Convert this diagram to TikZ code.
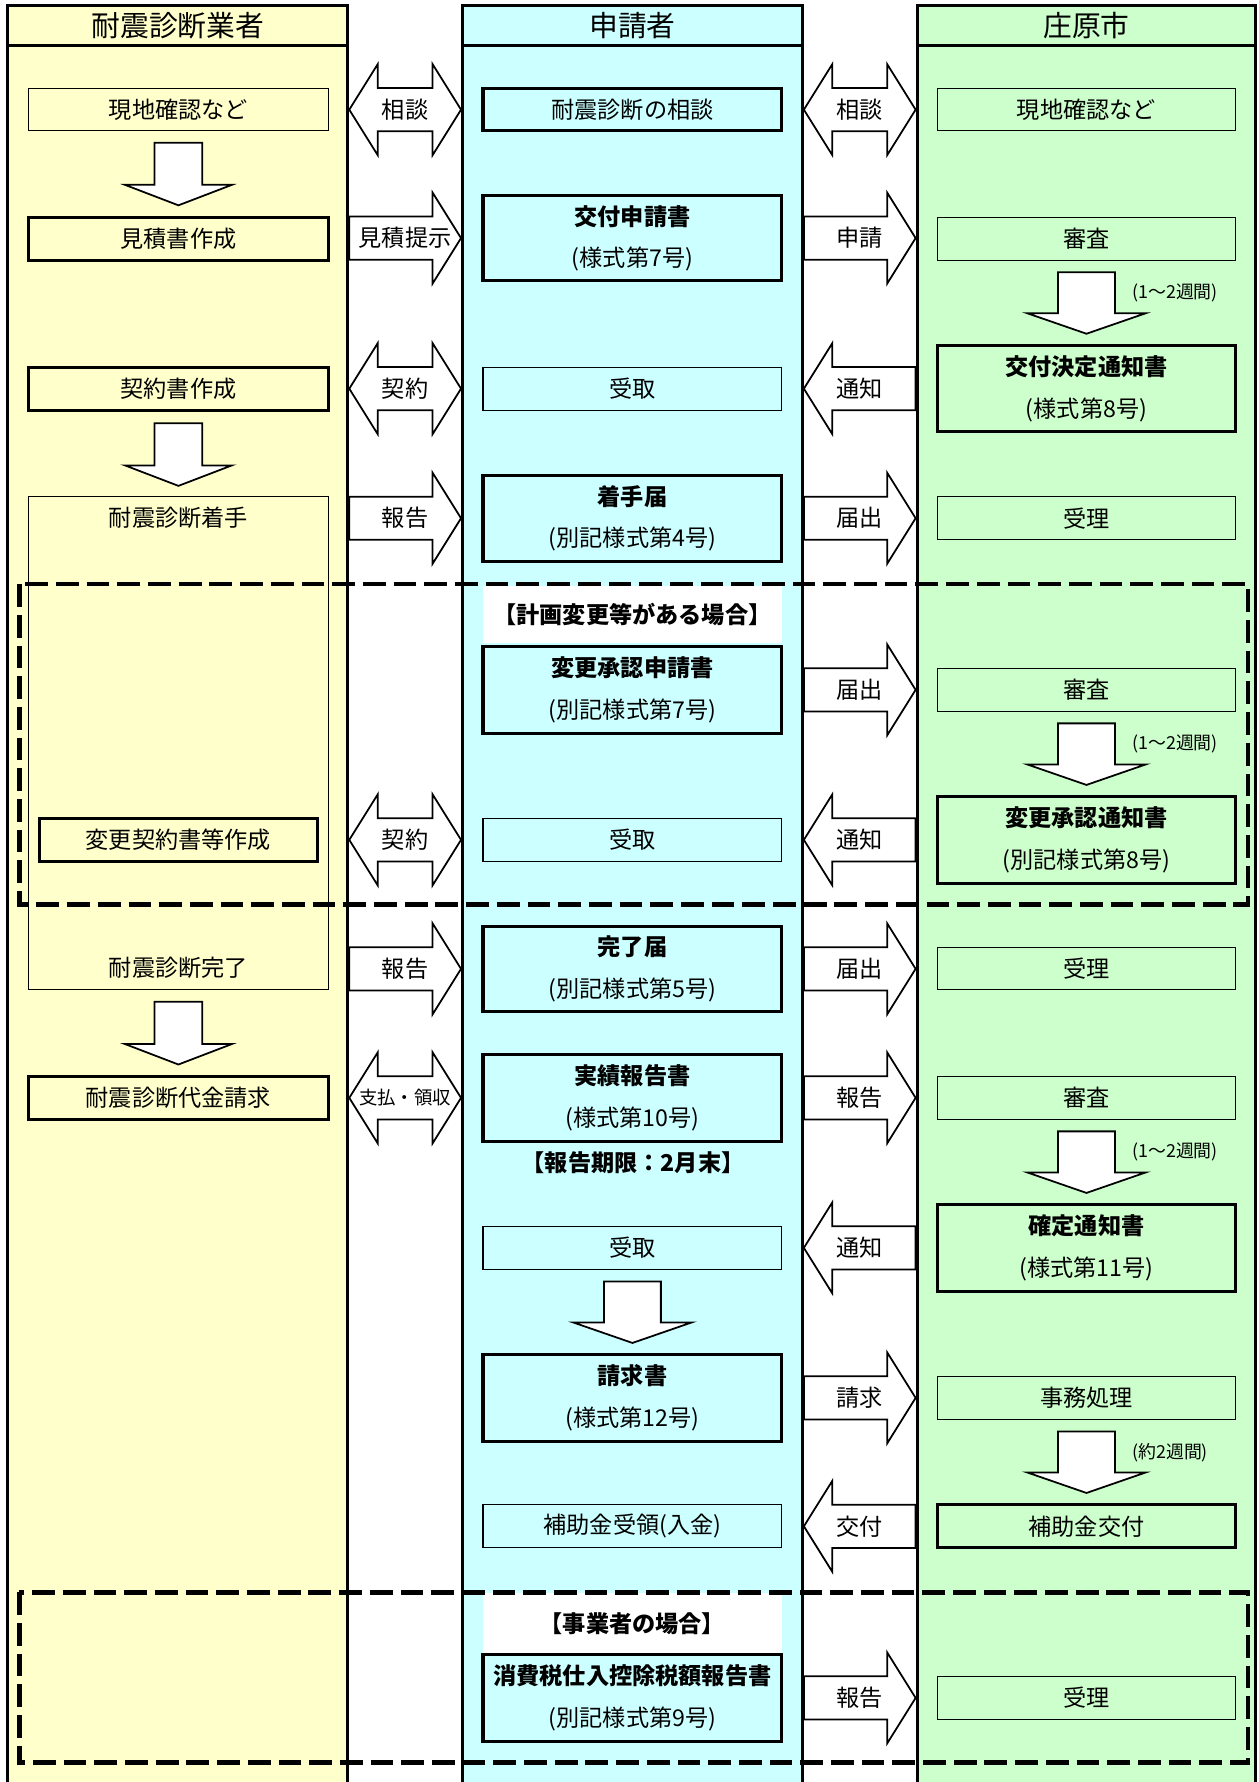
\documentclass[tikz,border=0pt]{standalone}
\usepackage{fontspec}
\setmainfont{Noto Sans CJK JP}
\usetikzlibrary{fit,calc}
\definecolor{colY}{HTML}{FFFFCC}
\definecolor{colC}{HTML}{CCFFFF}
\definecolor{colG}{HTML}{CCFFCC}
\newcommand{\arrSh}{0.475cm}
\newcommand{\arrHh}{1cm}
\newcommand{\arrHl}{0.625cm}
\tikzset{
  thinbox/.style={draw, line width=0.7pt, inner sep=0pt},
  thickbox/.style={draw, line width=1.9pt, inner sep=0pt},
  notebox/.style={fill=white, inner sep=0pt},
  boxtext/.style={inner sep=0pt, font=\fontsize{14.5}{26}\selectfont, align=center},
  notetext/.style={inner sep=0pt, font=\fontsize{14.5}{16}\selectfont\bfseries},
  plain/.style={inner sep=0pt, font=\fontsize{14.5}{16}\selectfont},
  lane/.style={draw, line width=1.9pt, inner sep=0pt},
  blockarrow/.style={draw, fill=white, line width=1.1pt, line join=miter},
  alabel/.style={font=\fontsize{14.5}{16}\selectfont, inner sep=0pt},
  slabel/.style={font=\fontsize{11.2}{13}\selectfont, inner sep=0pt},
  dashregion/.style={draw, line width=2.9pt, dash pattern=on 0.5cm off 0.175cm},
  lanetitle/.style={font=\fontsize{18}{20}\selectfont, inner sep=0pt},
}
% box with centred text: #1 style, #2 name, #3 corner, #4 corner, #5 text style, #6 text
\newcommand{\bx}[6]{%
  \node[#1, fit={#3 #4}] (#2) {};
  \node[#5] (#2t) at (#2.center) {#6};
}
% right-pointing block arrow: #1 tail lane, #2 head lane, #3 row node, #4 label, #5 name
\newcommand{\arrR}[5]{%
  \draw[blockarrow] let \p1=(#1.east |- #3), \p2=(#2.west |- #3) in
    (\x1,\y1+\arrSh) -- (\x2-\arrHl,\y1+\arrSh) -- (\x2-\arrHl,\y1+\arrHh) -- (\x2,\y1)
    -- (\x2-\arrHl,\y1-\arrHh) -- (\x2-\arrHl,\y1-\arrSh) -- (\x1,\y1-\arrSh) -- cycle
    ({(\x1+\x2)/2},\y1) node[alabel] (#5) {#4};
}
% left-pointing block arrow: #1 head lane (left), #2 tail lane (right)
\newcommand{\arrL}[5]{%
  \draw[blockarrow] let \p1=(#1.east |- #3), \p2=(#2.west |- #3) in
    (\x2,\y1+\arrSh) -- (\x1+\arrHl,\y1+\arrSh) -- (\x1+\arrHl,\y1+\arrHh) -- (\x1,\y1)
    -- (\x1+\arrHl,\y1-\arrHh) -- (\x1+\arrHl,\y1-\arrSh) -- (\x2,\y1-\arrSh) -- cycle
    ({(\x1+\x2)/2},\y1) node[alabel] (#5) {#4};
}
% double block arrow
\newcommand{\arrLR}[5]{%
  \draw[blockarrow] let \p1=(#1.east |- #3), \p2=(#2.west |- #3) in
    (\x1,\y1) -- (\x1+\arrHl,\y1+\arrHh) -- (\x1+\arrHl,\y1+\arrSh) -- (\x2-\arrHl,\y1+\arrSh)
    -- (\x2-\arrHl,\y1+\arrHh) -- (\x2,\y1) -- (\x2-\arrHl,\y1-\arrHh) -- (\x2-\arrHl,\y1-\arrSh)
    -- (\x1+\arrHl,\y1-\arrSh) -- (\x1+\arrHl,\y1-\arrHh) -- cycle
    ({(\x1+\x2)/2},\y1) node[alabel] (#5) {#4};
}
% down block arrow: #1 from node, #2 to node, #3 shaft half width, #4 head half width
\newcommand{\arrD}[4]{%
  \draw[blockarrow] let \p1=(#1.south), \p2=(#2.north) in
    (\x1-#3,\y1-0.25cm) -- (\x1+#3,\y1-0.25cm) -- (\x1+#3,\y2+0.675cm) -- (\x1+#4,\y2+0.675cm)
    -- (\x1,\y2+0.225cm) -- (\x1-#4,\y2+0.675cm) -- (\x1-#3,\y2+0.675cm) -- cycle;
}
\begin{document}
\begin{tikzpicture}[x=0.025cm,y=-0.025cm]
\useasboundingbox (0,0) rectangle (1107,1568);
\clip (0,0) rectangle (1107,1568);
% lanes
\node[lane, fill=colY, fit={(7,5) (306,1600)}] (colL) {};
\node[lane, fill=colC, fit={(407,5) (706,1600)}] (colM) {};
\node[lane, fill=colG, fit={(807,5) (1105,1600)}] (colR) {};
\bx{lane, fill=colY}{hL}{(7,5)}{(306,40)}{lanetitle}{耐震診断業者}
\bx{lane, fill=colC}{hM}{(407,5)}{(706,40)}{lanetitle}{申請者}
\bx{lane, fill=colG}{hR}{(807,5)}{(1105,40)}{lanetitle}{庄原市}
% left lane boxes
\bx{thinbox}{a1}{(25,78)}{(289,115)}{boxtext}{現地確認など}
\bx{thickbox}{a2}{(25,191)}{(289,229)}{boxtext}{見積書作成}
\bx{thickbox}{a3}{(25,323)}{(289,361)}{boxtext}{契約書作成}
\node[thinbox, fit={(25,437) (289,871)}] (a4) {};
\node[plain] (a4s) at (157,456) {耐震診断着手};
\node[plain] (a4e) at (157,852) {耐震診断完了};
\bx{thickbox}{a5}{(35,720)}{(279,758)}{boxtext}{変更契約書等作成}
\bx{thickbox}{a6}{(25,947)}{(289,985)}{boxtext}{耐震診断代金請求}
% middle lane boxes
\bx{thickbox}{b1}{(425,78)}{(688,115)}{boxtext}{耐震診断の相談}
\bx{thickbox}{b2}{(425,172)}{(688,247)}{boxtext}{\textbf{交付申請書}\\(様式第7号)}
\bx{thinbox}{b3}{(425,323)}{(688,361)}{boxtext}{受取}
\bx{thickbox}{b4}{(425,418)}{(688,494)}{boxtext}{\textbf{着手届}\\(別記様式第4号)}
\bx{notebox}{b5}{(425,516)}{(688,566)}{notetext}{【計画変更等がある場合】}
\bx{thickbox}{b6}{(425,569)}{(688,645)}{boxtext}{\textbf{変更承認申請書}\\(別記様式第7号)}
\bx{thinbox}{b7}{(425,720)}{(688,758)}{boxtext}{受取}
\bx{thickbox}{b8}{(425,815)}{(688,890)}{boxtext}{\textbf{完了届}\\(別記様式第5号)}
\bx{thickbox}{b9}{(425,928)}{(688,1004)}{boxtext}{\textbf{実績報告書}\\(様式第10号)}
\node[notetext] (b9n) at (557,1023) {【報告期限：2月末】};
\bx{thinbox}{b10}{(425,1079)}{(688,1117)}{boxtext}{受取}
\bx{thickbox}{b11}{(425,1192)}{(688,1268)}{boxtext}{\textbf{請求書}\\(様式第12号)}
\bx{thinbox}{b12}{(425,1324)}{(688,1362)}{boxtext}{補助金受領(入金)}
\bx{notebox}{b13}{(425,1402)}{(688,1455)}{notetext}{【事業者の場合】}
\bx{thickbox}{b14}{(425,1456)}{(688,1532)}{boxtext}{\textbf{消費税仕入控除税額報告書}\\(別記様式第9号)}
% right lane boxes
\bx{thinbox}{c1}{(825,78)}{(1087,115)}{boxtext}{現地確認など}
\bx{thinbox}{c2}{(825,191)}{(1087,229)}{boxtext}{審査}
\bx{thickbox}{c3}{(825,304)}{(1087,380)}{boxtext}{\textbf{交付決定通知書}\\(様式第8号)}
\bx{thinbox}{c4}{(825,437)}{(1087,475)}{boxtext}{受理}
\bx{thinbox}{c5}{(825,588)}{(1087,626)}{boxtext}{審査}
\bx{thickbox}{c6}{(825,701)}{(1087,777)}{boxtext}{\textbf{変更承認通知書}\\(別記様式第8号)}
\bx{thinbox}{c7}{(825,834)}{(1087,871)}{boxtext}{受理}
\bx{thinbox}{c8}{(825,947)}{(1087,985)}{boxtext}{審査}
\bx{thickbox}{c9}{(825,1060)}{(1087,1136)}{boxtext}{\textbf{確定通知書}\\(様式第11号)}
\bx{thinbox}{c10}{(825,1211)}{(1087,1249)}{boxtext}{事務処理}
\bx{thickbox}{c11}{(825,1324)}{(1087,1362)}{boxtext}{補助金交付}
\bx{thinbox}{c12}{(825,1475)}{(1087,1513)}{boxtext}{受理}
% horizontal block arrows
\arrLR{colL}{colM}{b1}{相談}{t1}
\arrLR{colM}{colR}{b1}{相談}{t2}
\arrR{colL}{colM}{b2}{見積提示}{t3}
\arrR{colM}{colR}{b2}{申請}{t4}
\arrLR{colL}{colM}{b3}{契約}{t5}
\arrL{colM}{colR}{b3}{通知}{t6}
\arrR{colL}{colM}{b4}{報告}{t7}
\arrR{colM}{colR}{b4}{届出}{t8}
\arrR{colM}{colR}{b6}{届出}{t9}
\arrLR{colL}{colM}{b7}{契約}{t10}
\arrL{colM}{colR}{b7}{通知}{t11}
\arrR{colL}{colM}{b8}{報告}{t12}
\arrR{colM}{colR}{b8}{届出}{t13}
\arrLR{colL}{colM}{b9}{\fontsize{11.5}{13}\selectfont 支払・領収}{t14}
\arrR{colM}{colR}{b9}{報告}{t15}
\arrL{colM}{colR}{b10}{通知}{t16}
\arrR{colM}{colR}{b11}{請求}{t17}
\arrL{colM}{colR}{b12}{交付}{t18}
\arrR{colM}{colR}{b14}{報告}{t19}
% vertical block arrows
\arrD{a1}{a2}{0.525cm}{1.175cm}
\arrD{a3}{a4}{0.525cm}{1.175cm}
\arrD{a4}{a6}{0.525cm}{1.175cm}
\arrD{c2}{c3}{0.625cm}{1.3cm}
\arrD{c5}{c6}{0.625cm}{1.3cm}
\arrD{c8}{c9}{0.625cm}{1.3cm}
\arrD{c10}{c11}{0.625cm}{1.3cm}
\arrD{b10}{b11}{0.625cm}{1.3cm}
% duration labels
\node[slabel, anchor=west] (w1) at (996,258) {(1～2週間)};
\node[slabel, anchor=west] (w2) at (996,655) {(1～2週間)};
\node[slabel, anchor=west] (w3) at (996,1014) {(1～2週間)};
\node[slabel, anchor=west] (w4) at (996,1278) {(約2週間)};
% dashed regions
\draw[dashregion] (17,514) rectangle (1098,796);
\draw[dashregion] (17,1401) rectangle (1098,1551);
\end{tikzpicture}
\end{document}
